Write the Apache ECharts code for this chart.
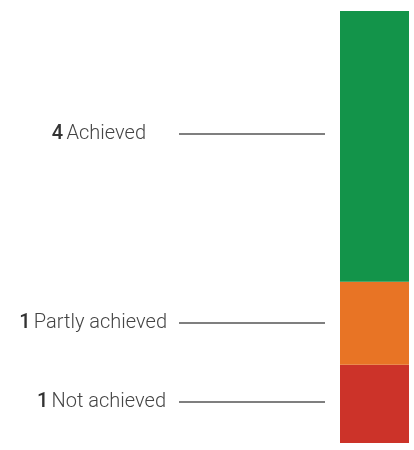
<!DOCTYPE html>
<html><head><meta charset="utf-8">
<script src="https://cdn.jsdelivr.net/npm/echarts@6/dist/echarts.min.js"></script>
<style>html,body{margin:0;padding:0;background:#fff}#c{width:414px;height:450px}</style>
</head><body><div id="c"></div>
<script>
// Data
const categories = ['Achieved', 'Partly achieved', 'Not achieved'];
const counts = [4, 1, 1];
const shares = [62.7, 19.2, 18.1]; // estimated bar segment heights (% of bar)
const colors = ['#13944A', '#E87425', '#CC3329'];

// styles (not data)
const labelRight = [146, 167, 166];
const labelYOffset = [-12, 0, -2];
const lineX0 = 179, lineX1 = 325;

// cumulative midpoints (stack from bottom: Not achieved, Partly, Achieved)
const order = [2, 1, 0];
const mids = new Array(3);
let acc = 0;
order.forEach(i => { mids[i] = acc + shares[i] / 2; acc += shares[i]; });
const total = acc;

const chart = echarts.init(document.getElementById('c'));
const barSeries = order.map(i => ({
  type: 'bar', name: categories[i], stack: 'all', barWidth: '100%',
  data: [shares[i]], itemStyle: { color: colors[i] }, silent: true
}));

chart.setOption({
  animation: false,
  grid: { left: 340, right: 5, top: 11, bottom: 7 },
  xAxis: { type: 'category', data: [''], show: false },
  yAxis: { type: 'value', min: 0, max: total, show: false },
  series: barSeries.concat([{
    type: 'custom', clip: false, silent: true,
    data: categories.map((c, i) => [0, mids[i], i]),
    renderItem: function (params, api) {
      const i = api.value(2);
      const p = api.coord([0, api.value(1)]);
      const y = Math.round(p[1] + labelYOffset[i]);
      return {
        type: 'group', children: [
          { type: 'line', shape: { x1: lineX0, y1: y, x2: lineX1, y2: y },
            style: { stroke: '#555', lineWidth: 1.5 } },
          { type: 'text', x: labelRight[i], y: y,
            style: {
              text: '{b|' + counts[i] + '} {n|' + categories[i] + '}',
              align: 'right', verticalAlign: 'middle',
              rich: {
                b: { fontFamily: 'Roboto', fontSize: 20, fontWeight: 500, fill: '#333' },
                n: { fontFamily: 'Roboto', fontSize: 20, fontWeight: 300, fill: '#444' }
              }
            } }
        ]
      };
    }
  }])
});
</script></body></html>
